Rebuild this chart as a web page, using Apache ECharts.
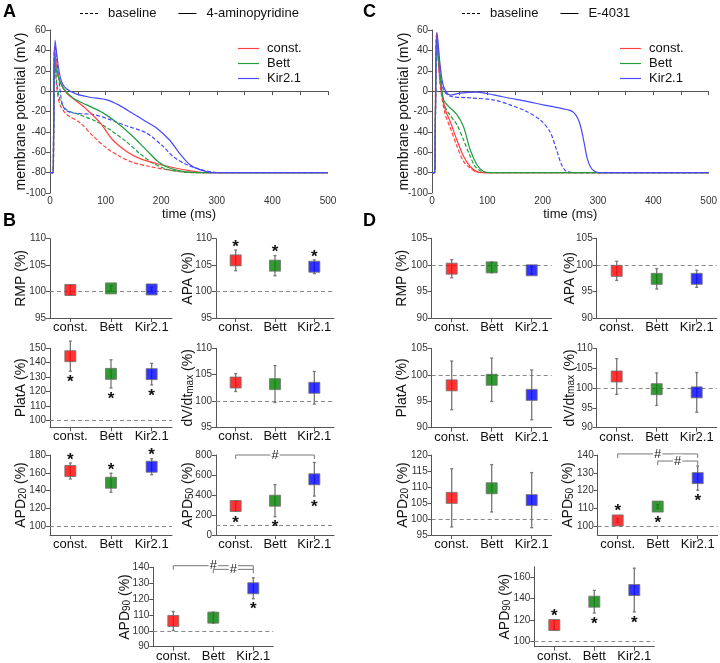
<!DOCTYPE html>
<html>
<head>
<meta charset="utf-8">
<script src="https://cdn.jsdelivr.net/npm/echarts@6/dist/echarts.min.js"></script>
<style>
  html, body { margin: 0; padding: 0; background: #fff; }
  #main { width: 720px; height: 663px; }
</style>
</head>
<body>
<div id="main"></div>
<script>
// x categories of the summary plots
var groups = ['const.', 'Bett', 'Kir2.1'];

// action potentials, [time (ms), membrane potential (mV)]
var aConstBase = [[0,-80],[5.5,-80],[6.5,-40],[7.8,40],[12,4.5],[18,-13.5],[30,-23],[54,-31],[78,-44.5],[102,-56],[125,-64],[149,-70],[179,-74],[209,-77],[245,-79.5],[290,-80],[500,-80]];
var aConstDrug = [[0,-80],[5.5,-80],[6.5,-40],[7.8,44],[12,24],[18,9],[30,-2],[48,-10],[66,-18],[90,-31],[113,-48],[137,-59],[161,-66],[191,-71],[221,-75],[251,-78],[281,-80],[500,-80]];
var aBettBase = [[0,-80],[5.5,-80],[6.5,-40],[8.5,32],[12,9.4],[18,-8.6],[30,-18.4],[54,-23.3],[84,-30],[108,-38],[137,-49.5],[161,-61],[185,-70.6],[209,-76.5],[239,-79.5],[263,-80],[500,-80]];
var aBettDrug = [[0,-80],[5.5,-80],[6.5,-40],[8.5,34],[12,19],[24,3],[42,-7],[66,-13.5],[96,-21.6],[125,-33],[149,-44.5],[173,-57.6],[194,-69],[215,-75.5],[245,-79.2],[269,-80],[500,-80]];
var aKirBase = [[0,-80],[5.5,-80],[6.5,-40],[9,45],[15,16],[21,-10],[27,-18],[42,-21.5],[78,-23],[108,-28],[137,-34],[173,-41],[203,-54],[221,-64],[245,-72],[269,-76.5],[293,-79.5],[310,-80],[500,-80]];
var aKirDrug = [[0,-80],[5.5,-80],[6.5,-40],[9,50],[15,24],[21,9],[30,2],[48,-3],[72,-6],[102,-8.6],[125,-14],[149,-22],[173,-30],[191,-36],[215,-48],[233,-61],[251,-72],[269,-77],[293,-80],[500,-80]];

var cConstBase = [[0,-80],[5,-80],[6,-35],[8,55],[15,4.5],[24,-23],[33,-36],[45,-54],[57,-69],[69,-75.5],[81,-79.6],[93,-80],[500,-80]];
var cConstDrug = [[0,-80],[5,-80],[6,-35],[8,57],[15,8],[24,-18],[33,-30],[45,-48],[57,-64],[69,-74],[81,-79],[93,-80],[500,-80]];
var cBettBase = [[0,-80],[5,-80],[6,-35],[8.5,48],[15,11],[21,-12],[30,-21.6],[45,-33],[57,-48],[69,-64],[78,-74],[90,-79],[102,-80],[500,-80]];
var cBettDrug = [[0,-80],[5,-80],[6,-35],[8.5,50],[15,14],[21,-8.6],[30,-15],[45,-23],[57,-35],[69,-57.6],[81,-72],[93,-79],[105,-80],[500,-80]];
var cKirBase = [[0,-80],[5,-80],[6,-35],[9,55],[15,17.5],[21,1],[33,-5],[63,-6.4],[111,-8.6],[141,-13.5],[171,-20],[195,-28],[213,-39.6],[225,-57.6],[234,-72],[243,-78.8],[261,-80],[500,-80]];
var cKirDrug = [[0,-80],[5,-80],[6,-35],[9,58],[15,24],[21,4.5],[33,-4],[51,-2],[81,-1],[111,-3.7],[141,-7],[171,-10],[201,-13.5],[231,-16.7],[254,-20],[266,-30],[274,-48],[281,-67],[290,-77],[305,-80],[500,-80]];

// summary stats per group: [mean (%), error, significance: 1 star above, -1 star below, 0 none]
var bRMP   = [[100.3, 0.9, 0], [100.6, 0.5, 0], [100.4, 0.4, 0]];
var bAPA   = [[105.9, 1.95, 1], [104.9, 1.9, 1], [104.7, 1.3, 1]];
var bPlatA = [[144.5, 10.5, -1], [132.2, 9.8, -1], [132, 7.5, -1]];
var bDvdt  = [[103.5, 1.7, 0], [103.2, 3.5, 0], [102.5, 3.1, 0]];
var bAPD20 = [[162, 9, 1], [148.8, 10.7, 1], [166.8, 9, 1]];
var bAPD50 = [[290, 50, -1], [343, 160, -1], [557, 168, -1]];
var bAPD90 = [[106.2, 6, 0], [108.3, 3.5, 0], [126.8, 6.6, -1]];

var dRMP   = [[99.3, 1.7, 0], [99.55, 1.0, 0], [99.0, 0.7, 0]];
var dAPA   = [[98.9, 1.8, 0], [97.4, 1.9, 0], [97.4, 1.6, 0]];
var dPlatA = [[98.0, 4.6, 0], [99.05, 4.1, 0], [96.2, 4.7, 0]];
var dDvdt  = [[102.9, 4.5, 0], [99.7, 4.1, 0], [98.9, 5.0, 0]];
var dAPD20 = [[106.6, 9.1, 0], [109.6, 7.4, 0], [105.9, 8.6, 0]];
var dAPD50 = [[103.2, 1.0, 1], [111.0, 1.0, -1], [127.0, 6.8, -1]];
var dAPD90 = [[115.3, 4.5, 1], [137.2, 10.6, -1], [148.1, 20.5, -1]];

// "#" comparisons: [from group, to group, height]
var bAPD50Pairs = [[0, 2, 800]];
var bAPD90Pairs = [[0, 2, 141], [1, 2, 138.7]];
var dAPD50Pairs = [[0, 2, 140.6], [1, 2, 136.6]];

var FONT = 'Liberation Sans';
var lineColors = ['#ff4040', '#1f9e3f', '#4848ff'];
var boxColors = ['#ff0000', '#008000', '#0000ff'];
var axisColor = '#555';
var solidIcon = 'path://M0,0h18v1h-18z';
var dashIcon = 'path://M0,0h3v1h-3zM5,0h3v1h-3zM10,0h3v1h-3zM15,0h3v1h-3z';

var option = {
  animation: false,
  backgroundColor: '#fff',
  textStyle: { fontFamily: FONT },
  grid: [], xAxis: [], yAxis: [], series: [], legend: [],
  graphic: [
    { type: 'text', left: 3, top: 3, style: { text: 'A', font: 'bold 18px ' + FONT, fill: '#000' } },
    { type: 'text', left: 3, top: 212, style: { text: 'B', font: 'bold 18px ' + FONT, fill: '#000' } },
    { type: 'text', left: 363, top: 3, style: { text: 'C', font: 'bold 18px ' + FONT, fill: '#000' } },
    { type: 'text', left: 363, top: 212, style: { text: 'D', font: 'bold 18px ' + FONT, fill: '#000' } }
  ]
};

var nameRich = {
  n: { fontSize: 14, lineHeight: 18, verticalAlign: 'bottom', color: '#111' },
  s: { fontSize: 10, lineHeight: 8, verticalAlign: 'bottom', color: '#111' }
};

function addTraces(left, drug, yGap, traces) {
  var gi = option.grid.length;
  option.grid.push({ left: left, top: 30, width: 278, height: 163 });
  option.xAxis.push({
    type: 'value', gridIndex: gi, min: 0, max: 500, interval: 100,
    name: 'time (ms)', nameLocation: 'middle', nameGap: 15, nameMoveOverlap: false,
    nameTextStyle: { fontSize: 13, color: '#111' },
    axisLine: { show: true, lineStyle: { color: axisColor } },
    axisTick: { show: true, length: 4, lineStyle: { color: axisColor } },
    minorTick: { show: true, splitNumber: 2, length: 4, lineStyle: { color: axisColor } },
    axisLabel: { fontSize: 10, color: '#333', margin: 3 },
    splitLine: { show: false }
  });
  option.yAxis.push({
    type: 'value', gridIndex: gi, min: -100, max: 60, interval: 20,
    name: 'membrane potential (mV)', nameLocation: 'middle', nameGap: yGap, nameMoveOverlap: false,
    nameTextStyle: { fontSize: 14, color: '#111' },
    axisLine: { show: true, lineStyle: { color: axisColor } },
    axisTick: { show: true, length: 4, lineStyle: { color: axisColor } },
    axisLabel: { fontSize: 10, color: '#333', margin: 4 },
    splitLine: { show: false }
  });
  // legend-only series for line style keys
  option.series.push(
    { type: 'line', name: 'baseline', xAxisIndex: gi, yAxisIndex: gi, data: [], symbol: 'none',
      lineStyle: { color: '#000', width: 1.5, type: [4, 2] }, itemStyle: { color: '#000' } },
    { type: 'line', name: drug, xAxisIndex: gi, yAxisIndex: gi, data: [], symbol: 'none',
      lineStyle: { color: '#000', width: 1.5 }, itemStyle: { color: '#000' } }
  );
  traces.forEach(function (t) {
    option.series.push({
      type: 'line', name: groups[t.g], xAxisIndex: gi, yAxisIndex: gi, data: t.data,
      symbol: 'none', smooth: 0.3, z: t.dashed ? 2 : 3,
      lineStyle: { color: lineColors[t.g], width: 1.2, type: t.dashed ? [4, 2] : 'solid' },
      itemStyle: { color: lineColors[t.g] }
    });
  });
  option.legend.push({
    data: groups.map(function (g) { return { name: g, icon: solidIcon }; }),
    orient: 'vertical', left: left + 183, top: 37,
    itemWidth: 21, itemHeight: 1.5, itemGap: 2, selectedMode: false,
    textStyle: { fontSize: 13, color: '#111', padding: [0, 0, 0, 3] }
  });
  option.legend.push({
    data: [{ name: 'baseline', icon: dashIcon }, { name: drug, icon: solidIcon }],
    left: left + 25, top: 2, itemWidth: 18, itemHeight: 1.5, itemGap: 22, selectedMode: false,
    textStyle: { fontSize: 13, color: '#111', padding: [0, 0, 0, 5] }
  });
}

function renderErr(params, api) {
  var x = api.value(0), m = api.value(1), e = api.value(2), sig = api.value(3);
  var c = api.coord([x, m]);
  var hi = api.coord([x, m + e]);
  var lo = api.coord([x, m - e]);
  var st = { stroke: '#777', lineWidth: 1.3 };
  var kids = [
    { type: 'line', shape: { x1: c[0], y1: hi[1], x2: c[0], y2: lo[1] }, style: st },
    { type: 'line', shape: { x1: c[0] - 1.5, y1: hi[1], x2: c[0] + 1.5, y2: hi[1] }, style: st },
    { type: 'line', shape: { x1: c[0] - 1.5, y1: lo[1], x2: c[0] + 1.5, y2: lo[1] }, style: st }
  ];
  if (sig) {
    var y = sig > 0 ? Math.min(hi[1], c[1] - 6) - 7 : Math.max(lo[1], c[1] + 6) + 7;
    kids.push({ type: 'text', x: c[0], y: y + 4,
      style: { text: '*', font: 'bold 17px ' + FONT, fill: '#111', align: 'center', verticalAlign: 'middle' } });
  }
  return { type: 'group', children: kids };
}

function renderPair(params, api) {
  var a = api.coord([api.value(0), api.value(2)]);
  var b = api.coord([api.value(1), api.value(2)]);
  return { type: 'group', children: [
    { type: 'polyline', shape: { points: [[a[0], a[1] + 4], [a[0], a[1]], [b[0], b[1]], [b[0], b[1] + 4]] },
      style: { stroke: '#777', lineWidth: 1, fill: 'none' } },
    { type: 'text', x: (a[0] + b[0]) / 2, y: a[1],
      style: { text: '#', font: '13px ' + FONT, fill: '#222', align: 'center', verticalAlign: 'middle',
               backgroundColor: '#fff', padding: [0, 1] } }
  ] };
}

function addSummary(p) {
  var gi = option.grid.length;
  option.grid.push({ left: p.left, top: p.top, width: p.width, height: p.height });
  option.xAxis.push({
    type: 'category', gridIndex: gi, data: groups, boundaryGap: true,
    axisLine: { show: true, lineStyle: { color: axisColor } },
    axisTick: { show: true, alignWithLabel: true, length: 4, lineStyle: { color: axisColor } },
    axisLabel: { fontSize: 13, color: '#111', margin: 3, interval: 0 },
    splitLine: { show: false }
  });
  var y = {
    type: 'value', gridIndex: gi, min: p.min, max: p.max,
    name: p.name, nameLocation: 'middle', nameGap: p.gap, nameMoveOverlap: false,
    nameTextStyle: { fontSize: 14, color: '#111', rich: nameRich },
    axisLine: { show: true, lineStyle: { color: axisColor } },
    axisTick: { show: true, length: 4, lineStyle: { color: axisColor } },
    axisLabel: { fontSize: 10, color: '#333', margin: 4,
                 showMinLabel: !p.hideMin, showMaxLabel: !p.hideMax },
    splitLine: { show: false }
  };
  if (p.interval) y.interval = p.interval;
  option.yAxis.push(y);

  option.series.push({
    type: 'custom', xAxisIndex: gi, yAxisIndex: gi, renderItem: renderErr, z: 3,
    encode: { x: 0, y: 1 },
    data: p.stats.map(function (s, i) { return [i, s[0], s[1], s[2]]; })
  });
  option.series.push({
    type: 'scatter', xAxisIndex: gi, yAxisIndex: gi, symbol: 'rect', symbolSize: 11, z: 4,
    data: p.stats.map(function (s, i) {
      return { value: [i, s[0]], itemStyle: { color: boxColors[i], borderColor: '#707070', borderWidth: 1 } };
    }),
    markLine: {
      silent: true, symbol: 'none', label: { show: false }, z: 1,
      lineStyle: { color: '#888', type: [4, 3], width: 1 },
      data: [{ yAxis: 100 }]
    }
  });
  if (p.pairs) {
    option.series.push({
      type: 'custom', xAxisIndex: gi, yAxisIndex: gi, renderItem: renderPair, z: 5,
      encode: { x: [0, 1], y: 2 }, data: p.pairs
    });
  }
}

addTraces(50, '4-aminopyridine', 21.5, [
  { g: 0, data: aConstDrug }, { g: 1, data: aBettDrug }, { g: 2, data: aKirDrug },
  { g: 0, data: aConstBase, dashed: true }, { g: 1, data: aBettBase, dashed: true }, { g: 2, data: aKirBase, dashed: true }
]);
addTraces(432, 'E-4031', 21, [
  { g: 0, data: cConstDrug }, { g: 1, data: cBettDrug }, { g: 2, data: cKirDrug },
  { g: 0, data: cConstBase, dashed: true }, { g: 1, data: cBettBase, dashed: true }, { g: 2, data: cKirBase, dashed: true }
]);

var dvdtName = '{n|dV/dt}{s|max}{n| (%)}';

// panel B
addSummary({ left: 50, top: 238.7, width: 122, height: 79.3, min: 95, max: 110, interval: 5, name: 'RMP (%)', gap: 22, stats: bRMP });
addSummary({ left: 216, top: 238.7, width: 118, height: 79.3, min: 95, max: 110, interval: 5, name: 'APA (%)', gap: 21, stats: bAPA });
addSummary({ left: 50, top: 348.3, width: 122, height: 79, min: 95, max: 150, hideMin: true, name: 'PlatA (%)', gap: 22, stats: bPlatA });
addSummary({ left: 216, top: 348.3, width: 118, height: 79, min: 95, max: 110, interval: 5, name: dvdtName, gap: 21, stats: bDvdt });
addSummary({ left: 50, top: 455, width: 122, height: 80, min: 90, max: 180, hideMin: true, name: '{n|APD}{s|20}{n| (%)}', gap: 21.5, stats: bAPD20 });
addSummary({ left: 216, top: 455, width: 118, height: 80, min: 0, max: 800, interval: 200, name: '{n|APD}{s|50}{n| (%)}', gap: 20.5, stats: bAPD50, pairs: bAPD50Pairs });
addSummary({ left: 153.3, top: 567.3, width: 120, height: 79.4, min: 90, max: 140, interval: 10, name: '{n|APD}{s|90}{n| (%)}', gap: 21, stats: bAPD90, pairs: bAPD90Pairs });

// panel D
addSummary({ left: 431.7, top: 238.3, width: 120, height: 80, min: 90, max: 105, interval: 5, name: 'RMP (%)', gap: 23, stats: dRMP });
addSummary({ left: 596.7, top: 238.3, width: 120, height: 80, min: 90, max: 105, interval: 5, name: 'APA (%)', gap: 20, stats: dAPA });
addSummary({ left: 431.7, top: 348.3, width: 120, height: 79.4, min: 90, max: 105, interval: 5, name: 'PlatA (%)', gap: 23, stats: dPlatA });
addSummary({ left: 596.7, top: 348.3, width: 120, height: 79.4, min: 90, max: 110, interval: 5, name: dvdtName, gap: 20, stats: dDvdt });
addSummary({ left: 431.7, top: 455, width: 120, height: 80, min: 95, max: 120, interval: 5, name: '{n|APD}{s|20}{n| (%)}', gap: 21.7, stats: dAPD20 });
addSummary({ left: 597.7, top: 455, width: 120, height: 80, min: 95, max: 140, hideMin: true, name: '{n|APD}{s|50}{n| (%)}', gap: 22.7, stats: dAPD50, pairs: dAPD50Pairs });
addSummary({ left: 534.3, top: 566.7, width: 120, height: 80, min: 95, max: 170, hideMin: true, hideMax: true, name: '{n|APD}{s|90}{n| (%)}', gap: 22.3, stats: dAPD90 });

var chart = echarts.init(document.getElementById('main'));
chart.setOption(option);
</script>
</body>
</html>
